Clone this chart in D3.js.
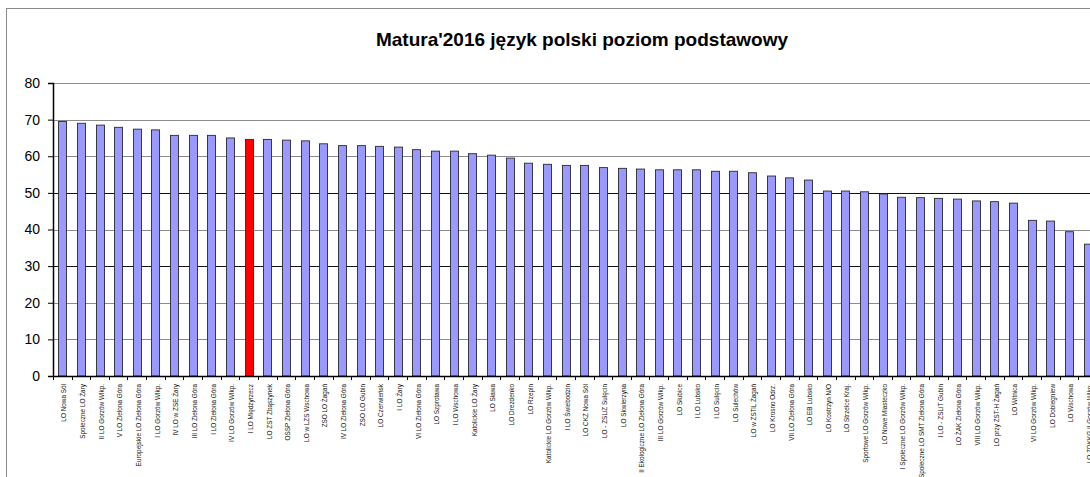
<!DOCTYPE html>
<html>
<head>
<meta charset="utf-8">
<script src="https://cdn.jsdelivr.net/npm/d3@7"></script>
<style>
  html, body { margin: 0; padding: 0; background: #fff; }
  svg { display: block; font-family: Arial, "Liberation Sans", sans-serif; }
</style>
</head>
<body>
<div id="chart"></div>
<script>
var schools = [
  'LO Nowa Sól', 'Społeczne LO Żary', 'II LO Gorzów Wlkp.', 'V LO Zielona Góra',
  'Europejskie LO Zielona Góra', 'I LO Gorzów Wlkp.', 'IV LO w ZSE Żary', 'III LO Zielona Góra',
  'I LO Zielona Góra', 'IV LO Gorzów Wlkp.', 'I LO Międzyrzecz', 'LO ZST Zbąszynek',
  'OSSP Zielona Góra', 'LO w LZS Wschowa', 'ZSO LO Żagań', 'IV LO Zielona Góra',
  'ZSO LO Gubin', 'LO Czerwieńsk', 'I LO Żary', 'VI LO Zielona Góra',
  'LO Szprotawa', 'I LO Wschowa', 'Katolickie LO Żary', 'LO Sława',
  'LO Drezdenko', 'LO Rzepin', 'Katolickie LO Gorzów Wlkp.', 'I LO Świebodzin',
  'LO CKZ Nowa Sól', 'LO - ZSLiZ Sulęcin', 'LO Skwierzyna', 'II Ekologiczne LO Zielona Góra',
  'III LO Gorzów Wlkp.', 'LO Słubice', 'I LO Lubsko', 'I LO Sulęcin',
  'LO Sulechów', 'LO w ZSTiL Żagań', 'LO Krosno Odrz.', 'VII LO Zielona Góra',
  'LO EB Lubsko', 'LO Kostrzyn N/O', 'LO Strzelce Kraj.', 'Sportowe LO Gorzów Wlkp.',
  'LO Nowe Miasteczko', 'I Społeczne LO Gorzów Wlkp.', 'Społeczne LO SMT Zielona Góra', 'I LO - ZSLiT Gubin',
  'LO ŻAK Zielona Góra', 'VIII LO Gorzów Wlkp.', 'LO przy ZST-H Żagań', 'LO Witnica',
  'VI LO Gorzów Wlkp.', 'LO Dobiegniew', 'LO Wschowa', 'LO ZDKKG II Gorzów Wlkp.'
];

var scores = [
  69.5, 69.0, 68.5, 67.9, 67.4, 67.2, 65.7, 65.7,
  65.7, 65.0, 64.6, 64.6, 64.4, 64.2, 63.4, 62.9,
  62.9, 62.7, 62.5, 61.8, 61.4, 61.4, 60.7, 60.3,
  59.5, 58.1, 57.8, 57.5, 57.5, 56.9, 56.7, 56.5,
  56.3, 56.3, 56.3, 55.9, 55.9, 55.5, 54.6, 54.1,
  53.5, 50.5, 50.5, 50.3, 49.7, 48.8, 48.7, 48.5,
  48.3, 47.8, 47.6, 47.2, 42.5, 42.3, 39.4, 36.0
];

var highlighted = 'I LO Międzyrzecz';
var yTicks = [0, 10, 20, 30, 40, 50, 60, 70, 80];
var darkLines = [30, 50];
var title = "Matura'2016 język polski poziom podstawowy";

var width = 1090;
var height = 477;
var plotLeft = 53;
var plotTop = 83;
var plotBottom = 376;

var svg = d3.select('#chart').append('svg')
  .attr('width', width)
  .attr('height', height);

// chart frame
svg.append('rect')
  .attr('x', 6.5)
  .attr('y', 8.5)
  .attr('width', 1200)
  .attr('height', 600)
  .attr('fill', '#fff')
  .attr('stroke', '#8a8a8a');

svg.append('text')
  .attr('x', 582)
  .attr('y', 46)
  .attr('text-anchor', 'middle')
  .attr('font-size', 19)
  .attr('font-weight', 'bold')
  .attr('fill', '#000')
  .text(title);

var x = d3.scaleBand()
  .domain(schools)
  .range([plotLeft, plotLeft + schools.length * 18.64])
  .paddingInner(0.57)
  .paddingOuter(0.28);

var y = d3.scaleLinear()
  .domain([0, 80])
  .range([plotBottom, plotTop]);

// grid
svg.append('g').selectAll('line')
  .data(yTicks.filter(function (d) { return d > 0; }))
  .enter().append('line')
  .attr('x1', plotLeft)
  .attr('x2', width)
  .attr('y1', function (d) { return Math.round(y(d)) + 0.5; })
  .attr('y2', function (d) { return Math.round(y(d)) + 0.5; })
  .attr('stroke', function (d) { return darkLines.indexOf(d) >= 0 ? '#111' : '#8c8c8c'; })
  .attr('stroke-width', 1);

// bars
svg.append('g').selectAll('rect')
  .data(schools)
  .enter().append('rect')
  .attr('x', function (d) { return Math.round(x(d)) + 0.5; })
  .attr('y', function (d, i) { return y(scores[i]); })
  .attr('width', Math.round(x.bandwidth()))
  .attr('height', function (d, i) { return plotBottom - y(scores[i]); })
  .attr('fill', function (d) { return d === highlighted ? '#ff0000' : '#9999ff'; })
  .attr('stroke', '#2b2b2b')
  .attr('stroke-width', 0.9);

// y axis
var yAxis = d3.axisLeft(y)
  .tickValues(yTicks)
  .tickSize(5)
  .tickPadding(8);

var yg = svg.append('g')
  .attr('transform', 'translate(' + plotLeft + ',0)')
  .call(yAxis);
yg.select('.domain').attr('stroke', '#000').attr('stroke-width', 1.5);
yg.selectAll('.tick line').attr('stroke', '#000');
yg.selectAll('.tick text')
  .attr('font-size', 14)
  .attr('fill', '#000')
  .attr('font-family', 'Arial, "Liberation Sans", sans-serif');

// x axis line and ticks between categories
var xg = svg.append('g');
xg.append('line')
  .attr('x1', plotLeft)
  .attr('x2', width)
  .attr('y1', plotBottom + 0.5)
  .attr('y2', plotBottom + 0.5)
  .attr('stroke', '#000')
  .attr('stroke-width', 1.5);

xg.selectAll('.xtick')
  .data(schools)
  .enter().append('line')
  .attr('class', 'xtick')
  .attr('x1', function (d) { return Math.round(x(d) - x.step() * x.paddingInner() / 2) + 0.5; })
  .attr('x2', function (d) { return Math.round(x(d) - x.step() * x.paddingInner() / 2) + 0.5; })
  .attr('y1', plotBottom)
  .attr('y2', plotBottom + 4)
  .attr('stroke', '#000');

xg.selectAll('.xlabel')
  .data(schools)
  .enter().append('text')
  .attr('class', 'xlabel')
  .attr('transform', function (d) {
    return 'translate(' + (x(d) + x.bandwidth() / 2 + 2) + ',' + (plotBottom + 8) + ')rotate(-90)';
  })
  .attr('dy', '0.35em')
  .attr('text-anchor', 'end')
  .attr('font-size', 6.4)
  .attr('fill', '#111')
  .text(function (d) { return d; });
</script>
</body>
</html>
